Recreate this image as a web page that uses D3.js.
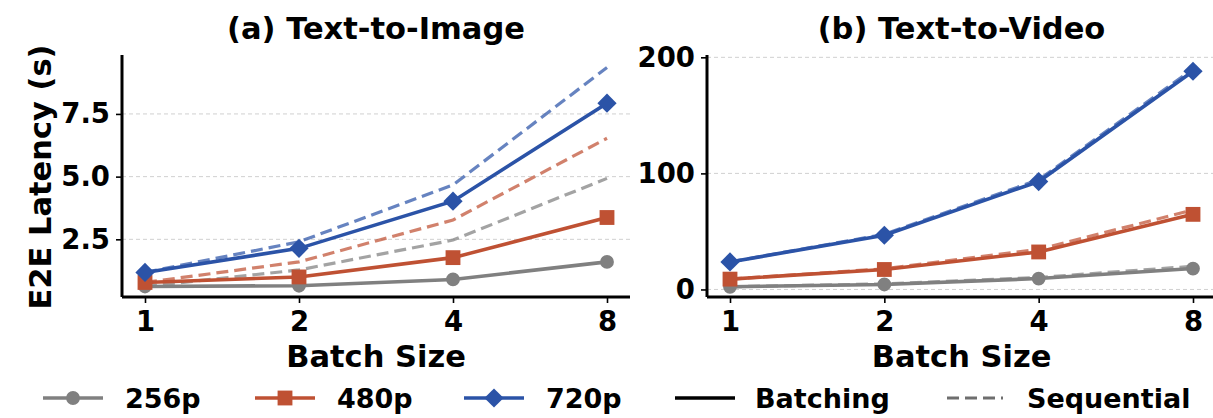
<!DOCTYPE html>
<meta charset="utf-8">
<script src="https://d3js.org/d3.v7.min.js"></script>
<style>
  body { margin: 0; background: #fff; }
  text { font-family: "DejaVu Sans", sans-serif; font-weight: bold; fill: #000; }
</style>
<body>
<div id="chart"></div>
<script>

// data
var batchSizes = [1, 2, 4, 8];
var resolutions = ["256p", "480p", "720p"];

// (a) Text-to-Image, seconds
var imgBatching = {
  "256p": [0.62, 0.65, 0.9, 1.6],
  "480p": [0.78, 1.0, 1.77, 3.37],
  "720p": [1.18, 2.14, 4.02, 7.93]
};
var imgSequential = {
  "256p": [0.62, 1.28, 2.47, 4.93],
  "480p": [0.78, 1.6, 3.27, 6.53],
  "720p": [1.18, 2.4, 4.67, 9.35]
};

// (b) Text-to-Video, seconds
var vidBatching = {
  "256p": [2.3, 4.3, 9.4, 18],
  "480p": [8.9, 17.2, 32.3, 64.7],
  "720p": [23.7, 46.7, 93, 188]
};
var vidSequential = {
  "256p": [2.3, 4.8, 10.3, 20],
  "480p": [8.9, 17.8, 34.5, 68.5],
  "720p": [23.7, 47.5, 94.5, 190]
};

var imgTicks = [2.5, 5.0, 7.5];
var vidTicks = [0, 100, 200];

var colors = { "256p": "#808080", "480p": "#bf5133", "720p": "#2b53a7" };
var shapes = { "256p": d3.symbolCircle, "480p": d3.symbolSquare, "720p": d3.symbolSquare };
var shapeSize = { "256p": 150, "480p": 220, "720p": 185 };
var shapeRot = { "256p": 0, "480p": 0, "720p": 45 };

var W = 1213, H = 418;

var svg = d3.select("#chart")
  .append("svg")
    .attr("width", W)
    .attr("height", H);

function marker(sel, r) {
  sel.attr("fill", colors[r])
    .attr("d", d3.symbol().type(shapes[r]).size(shapeSize[r]));
}

function panel(opt) {
  var x = d3.scaleLog().base(2)
    .domain([1, 8])
    .range([opt.left + 23, opt.right - 23]);
  var y = d3.scaleLinear()
    .domain(opt.yDomain)
    .range([297, 55]);

  var g = svg.append("g");

  // grid
  g.selectAll(".grid")
    .data(opt.ticks)
    .enter().append("line")
      .attr("x1", opt.left)
      .attr("x2", opt.right)
      .attr("y1", function(d) { return y(d); })
      .attr("y2", function(d) { return y(d); })
      .attr("stroke", "#d0d0d0")
      .attr("stroke-width", 1)
      .attr("stroke-dasharray", "4,3");

  var line = d3.line()
    .x(function(d, i) { return x(batchSizes[i]); })
    .y(function(d) { return y(d); });

  // sequential (dashed) underneath
  resolutions.forEach(function(r) {
    g.append("path")
      .datum(opt.seq[r])
      .attr("fill", "none")
      .attr("stroke", colors[r])
      .attr("stroke-opacity", 0.72)
      .attr("stroke-width", 3.2)
      .attr("stroke-dasharray", "12,6")
      .attr("d", line);
  });

  // batching (solid) with markers
  resolutions.forEach(function(r) {
    g.append("path")
      .datum(opt.bat[r])
      .attr("fill", "none")
      .attr("stroke", colors[r])
      .attr("stroke-width", 3.6)
      .attr("d", line);
    g.selectAll(".m" + r)
      .data(opt.bat[r])
      .enter().append("path")
        .attr("transform", function(d, i) {
          return "translate(" + x(batchSizes[i]) + "," + y(d) + ") rotate(" + shapeRot[r] + ")";
        })
        .call(marker, r);
  });

  // axes
  var xAxis = g.append("g")
    .attr("transform", "translate(0,297)")
    .call(d3.axisBottom(x).tickValues(batchSizes).tickFormat(d3.format("d")).tickSize(6).tickPadding(8));
  var yAxis = g.append("g")
    .attr("transform", "translate(" + opt.left + ",0)")
    .call(d3.axisLeft(y).tickValues(opt.ticks).tickFormat(opt.fmt).tickSize(6).tickPadding(6));

  [xAxis, yAxis].forEach(function(a) {
    a.select(".domain").attr("stroke", "#000").attr("stroke-width", 3);
    a.selectAll(".tick line").attr("stroke", "#000").attr("stroke-width", 1.6);
    a.selectAll(".tick text")
      .style("font-family", "DejaVu Sans")
      .style("font-weight", "bold")
      .style("font-size", "27.5px")
      .attr("fill", "#000");
  });
  xAxis.select(".domain").attr("d", "M" + opt.left + ",0H" + opt.right);
  yAxis.select(".domain").attr("d", "M0,297V55");

  // title and x label
  svg.append("text")
    .attr("x", (opt.left + opt.right) / 2)
    .attr("y", 39)
    .attr("text-anchor", "middle")
    .style("font-size", "30.5px")
    .text(opt.title);
  svg.append("text")
    .attr("x", (opt.left + opt.right) / 2)
    .attr("y", 367)
    .attr("text-anchor", "middle")
    .style("font-size", "30.5px")
    .text("Batch Size");
}

panel({
  left: 122, right: 630,
  yDomain: [0.2, 9.85],
  ticks: imgTicks,
  fmt: d3.format(".1f"),
  bat: imgBatching, seq: imgSequential,
  title: "(a) Text-to-Image"
});

panel({
  left: 707, right: 1216,
  yDomain: [-6.5, 202],
  ticks: vidTicks,
  fmt: d3.format("d"),
  bat: vidBatching, seq: vidSequential,
  title: "(b) Text-to-Video"
});

svg.append("text")
  .attr("transform", "translate(51,177) rotate(-90)")
  .attr("text-anchor", "middle")
  .style("font-size", "30.5px")
  .text("E2E Latency (s)");

// legend
var legendY = 398;
var leg = svg.append("g");
var legX = [43, 255, 464];
resolutions.forEach(function(r, i) {
  leg.append("line")
    .attr("x1", legX[i]).attr("x2", legX[i] + 60)
    .attr("y1", legendY).attr("y2", legendY)
    .attr("stroke", colors[r]).attr("stroke-width", 3.6);
  leg.append("path")
    .attr("transform", "translate(" + (legX[i] + 30) + "," + legendY + ") rotate(" + shapeRot[r] + ")")
    .call(marker, r);
  leg.append("text")
    .attr("x", legX[i] + 82)
    .attr("y", legendY)
    .attr("dy", "0.36em")
    .style("font-size", "27px")
    .text(r);
});
leg.append("line")
  .attr("x1", 675).attr("x2", 735)
  .attr("y1", legendY).attr("y2", legendY)
  .attr("stroke", "#000").attr("stroke-width", 3.6);
leg.append("text")
  .attr("x", 755).attr("y", legendY).attr("dy", "0.36em")
  .style("font-size", "27px")
  .text("Batching");
leg.append("line")
  .attr("x1", 947).attr("x2", 1003)
  .attr("y1", legendY).attr("y2", legendY)
  .attr("stroke", "#555").attr("stroke-opacity", 0.85).attr("stroke-width", 3.2)
  .attr("stroke-dasharray", "12,6");
leg.append("text")
  .attr("x", 1027).attr("y", legendY).attr("dy", "0.36em")
  .style("font-size", "27px")
  .text("Sequential");

</script>
</body>
